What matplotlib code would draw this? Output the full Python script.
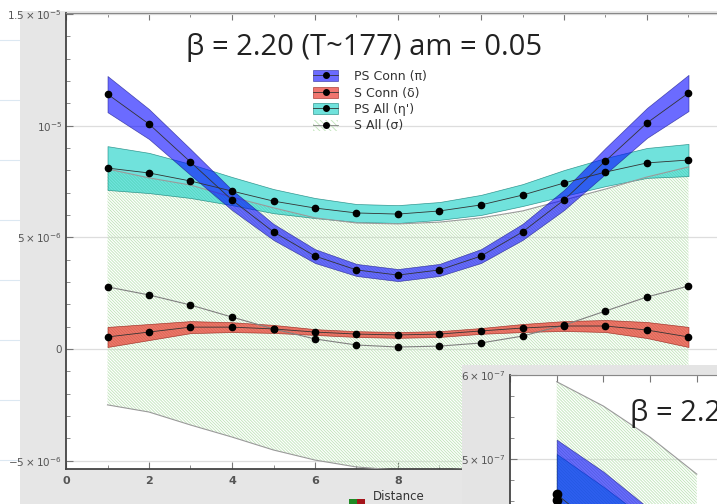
import numpy as np
import matplotlib
matplotlib.use("Agg")
import matplotlib.pyplot as plt
from matplotlib.patches import Patch, Rectangle
from matplotlib.lines import Line2D
from matplotlib.ticker import FixedLocator, MultipleLocator

# ---------------- data ----------------
distance = np.arange(1, 16)

ps_conn = np.array([11.41, 10.07, 8.37, 6.67, 5.24, 4.16, 3.54, 3.31, 3.54, 4.16, 5.24, 6.67, 8.42, 10.12, 11.46]) * 1e-6
ps_conn_err = np.array([0.81, 0.67, 0.58, 0.45, 0.36, 0.31, 0.27, 0.27, 0.27, 0.31, 0.36, 0.45, 0.58, 0.67, 0.81]) * 1e-6

s_conn = np.array([0.54, 0.76, 0.98, 0.98, 0.90, 0.76, 0.67, 0.63, 0.67, 0.81, 0.94, 1.03, 1.03, 0.85, 0.54]) * 1e-6
s_conn_err = np.array([0.45, 0.36, 0.27, 0.22, 0.18, 0.13, 0.13, 0.13, 0.13, 0.13, 0.18, 0.22, 0.27, 0.36, 0.45]) * 1e-6

ps_all = np.array([8.10, 7.88, 7.52, 7.07, 6.62, 6.31, 6.09, 6.04, 6.18, 6.45, 6.89, 7.43, 7.92, 8.33, 8.46]) * 1e-6
ps_all_err = np.array([0.98, 0.90, 0.76, 0.63, 0.54, 0.45, 0.40, 0.40, 0.40, 0.45, 0.49, 0.58, 0.63, 0.67, 0.72]) * 1e-6

s_all = np.array([2.78, 2.42, 1.97, 1.43, 0.90, 0.45, 0.18, 0.09, 0.13, 0.27, 0.58, 1.07, 1.70, 2.33, 2.82]) * 1e-6
s_all_err = np.array([5.28, 5.24, 5.37, 5.37, 5.42, 5.42, 5.46, 5.51, 5.55, 5.60, 5.60, 5.60, 5.46, 5.37, 5.33]) * 1e-6

labels = ["PS Conn (π)", "S Conn (δ)", "PS All (η')", "S All (σ)"]
title = "β = 2.20 (T~177) am = 0.05"

ytick_vals = [-5e-6, 0, 5e-6, 1e-5, 1.5e-5]
ytick_labels = [r"$-5\times10^{-6}$", "0", r"$5\times10^{-6}$", r"$10^{-5}$", r"$1.5\times10^{-5}$"]
xtick_vals = [0, 2, 4, 6, 8, 10, 12, 14, 16]

# inset (second panel, mostly cut off)
distance_in = np.array([1, 2, 3, 4])
s_all_in = np.array([4.42, 4.13, 3.76, 3.32]) * 1e-7
s_all_in_err = np.array([1.50, 1.50, 1.50, 1.50]) * 1e-7
ps_conn_in = np.array([4.58, 4.13, 3.60, 3.10]) * 1e-7
ps_conn_in_err = np.array([0.65, 0.72, 0.80, 0.85]) * 1e-7
ps_all_in = np.array([4.51, 4.05, 3.55, 3.05]) * 1e-7
ps_all_in_err = np.array([0.55, 0.62, 0.70, 0.75]) * 1e-7
ytick_in_vals = [4e-7, 5e-7, 6e-7]
ytick_in_labels = [r"$4\times10^{-7}$", r"$5\times10^{-7}$", r"$6\times10^{-7}$"]

# ---------------- styling ----------------
BLUE = (0.0, 0.0, 1.0, 0.58)
BLUE_E = (0.1, 0.1, 0.55, 0.7)
CYAN = (0.0, 0.80, 0.76, 0.56)
CYAN_E = (0.0, 0.45, 0.42, 0.7)
RED = (0.90, 0.07, 0.02, 0.58)
RED_E = (0.55, 0.05, 0.02, 0.7)
HATCH_C = "#bfe4b8"
HATCH = "\\" * 11
plt.rcParams["hatch.linewidth"] = 0.6

W, H = 717, 504
def fx(px):
    return px / W
def fy(py):
    return 1 - py / H

fig = plt.figure(figsize=(W / 100, H / 100), dpi=100)
fig.patch.set_facecolor("white")

# grey panel behind the graphic
fig.add_artist(Rectangle((fx(20), 0), fx(W - 20) + 0.01, (H - 11) / H,
                         transform=fig.transFigure, facecolor="#e6e6e6",
                         edgecolor="none", zorder=-5))
# faint slide grid in left strip
for gy in [40, 100, 160, 220, 280, 340, 400, 460]:
    fig.add_artist(Line2D([0, fx(20)], [fy(gy), fy(gy)], transform=fig.transFigure,
                          color="#dce8f2", lw=0.8, zorder=-6))

# ---------------- main axes ----------------
px_per_unit = 41.5
ax_bottom_px = 469
ax = fig.add_axes([fx(66), fy(ax_bottom_px), 16 * px_per_unit / W, (ax_bottom_px - 13) / H])
ax.set_facecolor("white")
ax.set_xlim(0, 16)
ax.set_ylim(-5.37e-6, 1.504e-5)

ax.yaxis.set_major_locator(FixedLocator(ytick_vals))
ax.set_yticklabels(ytick_labels)
ax.yaxis.set_minor_locator(MultipleLocator(1e-6))
ax.xaxis.set_major_locator(FixedLocator(xtick_vals))
ax.xaxis.set_minor_locator(MultipleLocator(1))
ax.tick_params(which="both", direction="in", top=True, right=False, color="#777")
ax.tick_params(which="major", length=5, width=0.8, labelsize=7.5, labelcolor="#555", pad=3)
ax.tick_params(axis="x", which="major", pad=5, labelsize=8)
ax.tick_params(which="minor", length=3, width=0.6)
for lab in ax.get_xticklabels():
    lab.set_fontweight("bold")
ax.yaxis.grid(True, which="major", color="#dddddd", lw=0.9)
ax.set_axisbelow(True)
for s in ["left", "bottom"]:
    ax.spines[s].set_color("#444")
    ax.spines[s].set_linewidth(1.3)
ax.spines["top"].set_color("#888")
ax.spines["right"].set_visible(False)

# S All (hatched)
ax.fill_between(distance, s_all - s_all_err, s_all + s_all_err, facecolor="none",
                edgecolor=HATCH_C, hatch=HATCH, linewidth=0, zorder=1)
ax.plot(distance, s_all - s_all_err, color="#9a9a9a", lw=0.8, zorder=2.6)
ax.plot(distance, s_all + s_all_err, color="#9a9a9a", lw=0.8, zorder=2.6)
# S Conn
ax.fill_between(distance, s_conn - s_conn_err, s_conn + s_conn_err, facecolor=RED,
                edgecolor=RED_E, lw=0.5, zorder=2)
# PS All
ax.fill_between(distance, ps_all - ps_all_err, ps_all + ps_all_err, facecolor=CYAN,
                edgecolor=CYAN_E, lw=0.5, zorder=2.5)
# PS Conn
ax.fill_between(distance, ps_conn - ps_conn_err, ps_conn + ps_conn_err, facecolor=BLUE,
                edgecolor=BLUE_E, lw=0.5, zorder=3)

mk = dict(marker="o", ms=4.5, mfc="black", mec="black")
ax.plot(distance, s_all, color="#808080", lw=0.8, zorder=4, **mk)
ax.plot(distance, s_conn, color="#333", lw=0.6, zorder=4, **mk)
ax.plot(distance, ps_all, color="#333", lw=0.6, zorder=4, **mk)
ax.plot(distance, ps_conn, color="#333", lw=0.6, zorder=4, **mk)

# legend
def hline(c):
    return Line2D([], [], color=c, lw=0.6, marker="o", ms=4, mfc="black", mec="black")
handles = [
    (Patch(facecolor=BLUE, edgecolor=BLUE_E, lw=0.5), hline("#333")),
    (Patch(facecolor=RED, edgecolor=RED_E, lw=0.5), hline("#333")),
    (Patch(facecolor=CYAN, edgecolor=CYAN_E, lw=0.5), hline("#333")),
    (Patch(facecolor="none", edgecolor=HATCH_C, hatch="\\" * 6, lw=0), hline("#808080")),
]
leg = ax.legend(handles, labels, loc="upper left", bbox_to_anchor=(fx(313), fy(70)),
                bbox_transform=fig.transFigure, frameon=False,
                prop={"family": ["DejaVu Sans"], "size": 9},
                handlelength=2.0, handleheight=0.95, labelspacing=0.28,
                handletextpad=1.3, borderpad=0, borderaxespad=0)
for t in leg.get_texts():
    t.set_color("#333")

fig.text(fx(186), fy(48), title, ha="left", va="center", fontsize=21,
         family=["Open Sans", "DejaVu Sans"], color="#222", zorder=3)

# "Distance" legend fragment at bottom
fig.add_artist(Rectangle((fx(349), 0), 8 / W, 5 / H, transform=fig.transFigure,
                         facecolor="#1f8a24", edgecolor="none", zorder=3))
fig.add_artist(Rectangle((fx(357), 0), 8 / W, 5 / H, transform=fig.transFigure,
                         facecolor="#a5141a", edgecolor="none", zorder=3))
fig.text(fx(373), fy(497), "Distance", ha="left", va="center", fontsize=8.5,
         family=["DejaVu Sans"], color="#333", zorder=3)

# ---------------- inset (overlapping second graphic) ----------------
fig.add_artist(Rectangle((fx(462), 0), fx(W - 462) + 0.01, (H - 365) / H,
                         transform=fig.transFigure, facecolor="#e4e4e4",
                         edgecolor="none", zorder=5))
px_in = 46.7
py_in = 84.0  # px per 1e-7
in_h = 200
axin = fig.add_axes([fx(510), fy(375 + in_h), 6 * px_in / W, in_h / H])
axin.set_zorder(6)
axin.set_facecolor("white")
axin.set_xlim(0, 6)
axin.set_ylim(6e-7 - in_h / py_in * 1e-7, 6e-7)
axin.yaxis.set_major_locator(FixedLocator(ytick_in_vals))
axin.set_yticklabels(ytick_in_labels)
axin.yaxis.set_minor_locator(MultipleLocator(2.5e-8))
axin.xaxis.set_major_locator(MultipleLocator(1))
axin.tick_params(which="both", direction="in", top=True, right=False, color="#777",
                 labelbottom=False)
axin.tick_params(which="major", length=5, width=0.8, labelsize=7.5, labelcolor="#555", pad=3)
axin.tick_params(which="minor", length=3, width=0.6)
axin.yaxis.grid(True, which="major", color="#dddddd", lw=0.9)
axin.set_axisbelow(True)
axin.spines["left"].set_color("#444")
axin.spines["left"].set_linewidth(1.3)
axin.spines["top"].set_color("#888")
axin.spines["right"].set_visible(False)
axin.spines["bottom"].set_visible(False)

axin.fill_between(distance_in, s_all_in - s_all_in_err, s_all_in + s_all_in_err,
                  facecolor="none", edgecolor=HATCH_C, hatch=HATCH, linewidth=0, zorder=1)
axin.plot(distance_in, s_all_in + s_all_in_err, color="#9a9a9a", lw=0.8, zorder=2.6)
axin.fill_between(distance_in, ps_all_in - ps_all_in_err, ps_all_in + ps_all_in_err,
                  facecolor=CYAN, edgecolor=CYAN_E, lw=0.5, zorder=2.5)
axin.fill_between(distance_in, ps_conn_in - ps_conn_in_err, ps_conn_in + ps_conn_in_err,
                  facecolor=BLUE, edgecolor=BLUE_E, lw=0.5, zorder=3)
axin.plot(distance_in, ps_all_in, color="#333", lw=0.6, zorder=4, marker="o", ms=6,
          mfc="black", mec="black")
axin.plot(distance_in, ps_conn_in, color="#333", lw=0.6, zorder=4, marker="o", ms=6,
          mfc="black", mec="black")

fig.text(fx(630), fy(414), title, ha="left", va="center", fontsize=21,
         family=["Open Sans", "DejaVu Sans"], color="#222", zorder=7)

fig.savefig("out.png", dpi=100)
